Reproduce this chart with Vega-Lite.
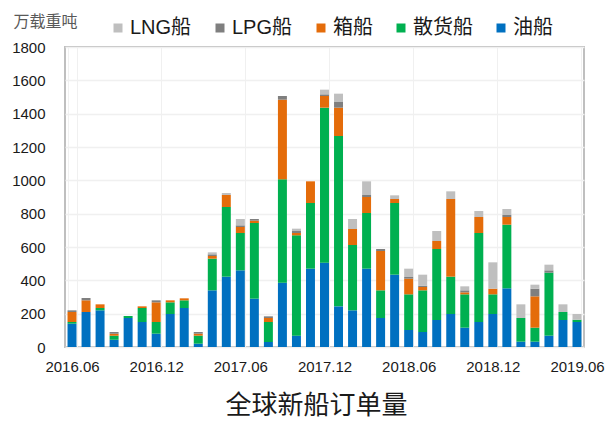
{
  "$schema": "https://vega.github.io/schema/vega-lite/v6.json",
  "autosize": "none",
  "width": 519,
  "height": 300,
  "padding": {"left": 65, "top": 47, "right": 22, "bottom": 74},
  "background": "white",
  "config": {
    "font": "Liberation Sans, Noto Sans CJK SC",
    "view": {"stroke": "#bfbfbf", "strokeWidth": 2}
  },
  "datasets": {
    "ranks": [
      {"type": "油船", "rank": 1},
      {"type": "散货船", "rank": 2},
      {"type": "箱船", "rank": 3},
      {"type": "LPG船", "rank": 4},
      {"type": "LNG船", "rank": 5}
    ]
  },
  "data": {
    "values": [
      {"m": "2016.06", "油船": 140, "散货船": 10, "箱船": 60, "LPG船": 10, "LNG船": 0},
      {"m": "2016.07", "油船": 210, "散货船": 0, "箱船": 70, "LPG船": 14, "LNG船": 0},
      {"m": "2016.08", "油船": 220, "散货船": 14, "箱船": 22, "LPG船": 0, "LNG船": 0},
      {"m": "2016.09", "油船": 44, "散货船": 24, "箱船": 12, "LPG船": 10, "LNG船": 0},
      {"m": "2016.10", "油船": 174, "散货船": 12, "箱船": 0, "LPG船": 0, "LNG船": 0},
      {"m": "2016.11", "油船": 150, "散货船": 84, "箱船": 10, "LPG船": 0, "LNG船": 0},
      {"m": "2016.12", "油船": 80, "散货船": 70, "箱船": 118, "LPG船": 12, "LNG船": 0},
      {"m": "2017.01", "油船": 198, "散货船": 70, "箱船": 12, "LPG船": 0, "LNG船": 0},
      {"m": "2017.02", "油船": 234, "散货船": 46, "箱船": 12, "LPG船": 0, "LNG船": 0},
      {"m": "2017.03", "油船": 20, "散货船": 48, "箱船": 12, "LPG船": 10, "LNG船": 0},
      {"m": "2017.04", "油船": 340, "散货船": 190, "箱船": 16, "LPG船": 10, "LNG船": 12},
      {"m": "2017.05", "油船": 422, "散货船": 418, "箱船": 72, "LPG船": 0, "LNG船": 12},
      {"m": "2017.06", "油船": 460, "散货船": 224, "箱船": 36, "LPG船": 10, "LNG船": 38},
      {"m": "2017.07", "油船": 290, "散货船": 454, "箱船": 14, "LPG船": 10, "LNG船": 0},
      {"m": "2017.08", "油船": 30, "散货船": 120, "箱船": 24, "LPG船": 10, "LNG船": 0},
      {"m": "2017.09", "油船": 386, "散货船": 620, "箱船": 478, "LPG船": 22, "LNG船": 0},
      {"m": "2017.10", "油船": 68, "散货船": 602, "箱船": 14, "LPG船": 12, "LNG船": 14},
      {"m": "2017.11", "油船": 470, "散货船": 394, "箱船": 130, "LPG船": 0, "LNG船": 0},
      {"m": "2017.12", "油船": 506, "散货船": 930, "箱船": 70, "LPG船": 10, "LNG船": 28},
      {"m": "2018.01", "油船": 244, "散货船": 1022, "箱船": 170, "LPG船": 34, "LNG船": 50},
      {"m": "2018.02", "油船": 220, "散货船": 392, "箱船": 96, "LPG船": 0, "LNG船": 60},
      {"m": "2018.03", "油船": 470, "散货船": 334, "箱船": 96, "LPG船": 12, "LNG船": 82},
      {"m": "2018.04", "油船": 174, "散货船": 166, "箱船": 236, "LPG船": 12, "LNG船": 0},
      {"m": "2018.05", "油船": 434, "散货船": 430, "箱船": 24, "LPG船": 0, "LNG船": 22},
      {"m": "2018.06", "油船": 102, "散货船": 214, "箱船": 94, "LPG船": 10, "LNG船": 50},
      {"m": "2018.07", "油船": 90, "散货船": 250, "箱船": 20, "LPG船": 8, "LNG船": 66},
      {"m": "2018.08", "油船": 162, "散货船": 426, "箱船": 48, "LPG船": 0, "LNG船": 60},
      {"m": "2018.09", "油船": 198, "散货船": 224, "箱船": 466, "LPG船": 0, "LNG船": 46},
      {"m": "2018.10", "油船": 116, "散货船": 200, "箱船": 12, "LPG船": 12, "LNG船": 24},
      {"m": "2018.11", "油船": 150, "散货船": 534, "箱船": 96, "LPG船": 0, "LNG船": 36},
      {"m": "2018.12", "油船": 198, "散货船": 118, "箱船": 34, "LPG船": 0, "LNG船": 158},
      {"m": "2019.01", "油船": 352, "散货船": 382, "箱船": 46, "LPG船": 12, "LNG船": 36},
      {"m": "2019.02", "油船": 32, "散货船": 142, "箱船": 0, "LPG船": 0, "LNG船": 82},
      {"m": "2019.03", "油船": 32, "散货船": 84, "箱船": 188, "LPG船": 46, "LNG船": 24},
      {"m": "2019.04", "油船": 68, "散货船": 378, "箱船": 0, "LPG船": 14, "LNG船": 34},
      {"m": "2019.05", "油船": 162, "散货船": 48, "箱船": 0, "LPG船": 0, "LNG船": 46},
      {"m": "2019.06", "油船": 150, "散货船": 14, "箱船": 0, "LPG船": 0, "LNG船": 34}
    ]
  },
  "transform": [
    {"fold": ["油船", "散货船", "箱船", "LPG船", "LNG船"], "as": ["type", "value"]},
    {"lookup": "type", "from": {"data": {"name": "ranks"}, "key": "type", "fields": ["rank"]}}
  ],
  "mark": {"type": "bar"},
  "encoding": {
    "x": {
      "field": "m",
      "type": "ordinal",
      "sort": null,
      "scale": {"paddingInner": 0.36, "paddingOuter": 0.18},
      "axis": {
        "values": ["2016.06", "2016.12", "2017.06", "2017.12", "2018.06", "2018.12", "2019.06"],
        "labelAngle": 0,
        "labelFontSize": 15,
        "labelColor": "#1a1a1a",
        "labelPadding": 12,
        "ticks": false,
        "tickSize": 0,
        "domain": false,
        "grid": true,
        "tickBand": "extent",
        "gridColor": "#f0f0f0",
        "gridWidth": 1,
        "title": "全球新船订单量",
        "titleFont": "Noto Sans CJK SC",
        "titleFontSize": 26,
        "titleFontWeight": "normal",
        "titleColor": "#1a1a1a",
        "titleX": 251,
        "titleY": 66,
        "titleAlign": "center",
        "titleBaseline": "alphabetic"
      }
    },
    "y": {
      "field": "value",
      "type": "quantitative",
      "stack": "zero",
      "scale": {"domain": [0, 1800], "nice": false},
      "axis": {
        "values": [0, 200, 400, 600, 800, 1000, 1200, 1400, 1600, 1800],
        "format": "d",
        "labelFontSize": 15,
        "labelColor": "#1a1a1a",
        "labelPadding": 20,
        "ticks": false,
        "tickSize": 0,
        "domain": false,
        "grid": true,
        "gridColor": "#f0f0f0",
        "gridWidth": 1.5,
        "title": "万载重吨",
        "titleFont": "Noto Sans CJK SC",
        "titleFontSize": 16,
        "titleFontWeight": "normal",
        "titleColor": "#595959",
        "titleAngle": 0,
        "titleAlign": "left",
        "titleBaseline": "alphabetic",
        "titleX": -52,
        "titleY": -21
      }
    },
    "color": {
      "field": "type",
      "type": "nominal",
      "scale": {
        "domain": ["LNG船", "LPG船", "箱船", "散货船", "油船"],
        "range": ["#bfbfbf", "#7f7f7f", "#e46c0a", "#00b050", "#0070c0"]
      },
      "legend": {
        "title": null,
        "orient": "none",
        "direction": "horizontal",
        "columns": 5,
        "legendX": 43,
        "legendY": -29,
        "padding": 0,
        "symbolType": "square",
        "symbolSize": 81,
        "symbolStrokeWidth": 0,
        "labelFont": "Liberation Sans, Noto Sans CJK SC",
        "labelFontSize": 20,
        "labelColor": "#1a1a1a",
        "labelOffset": 2,
        "columnPadding": 18
      }
    },
    "order": {"field": "rank", "type": "quantitative", "sort": "ascending"}
  }
}
